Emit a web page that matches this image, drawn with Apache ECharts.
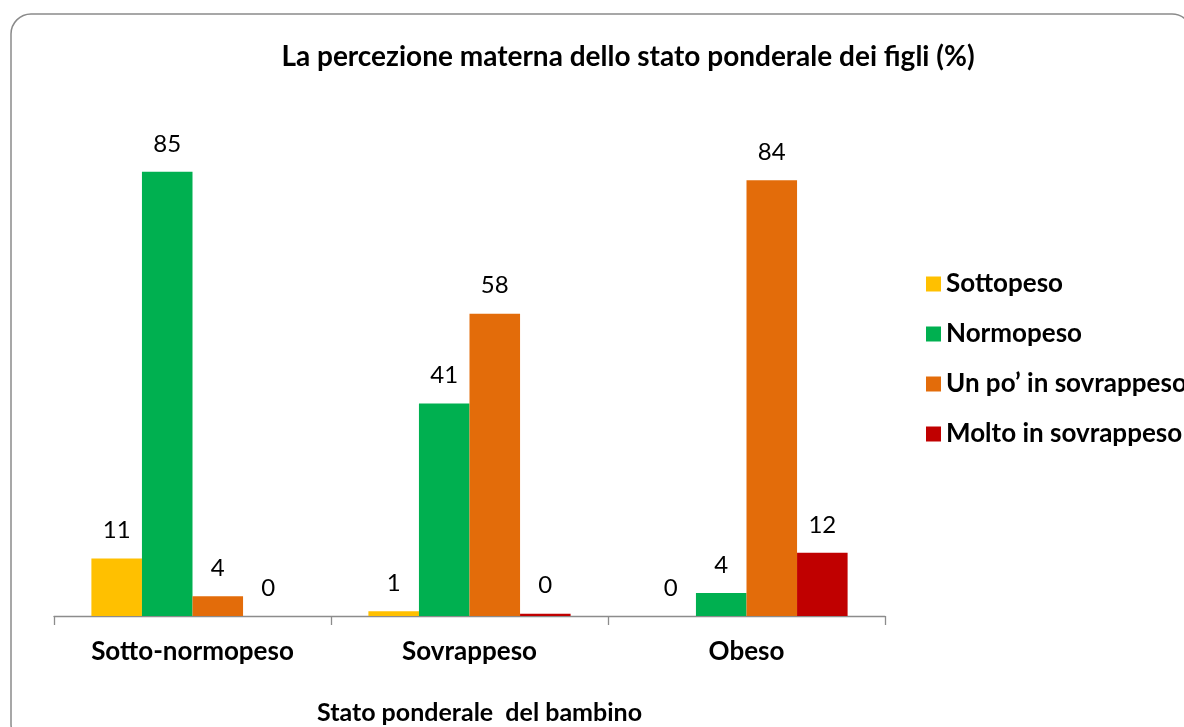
<!DOCTYPE html>
<html>
<head>
<meta charset="utf-8">
<script src="https://cdn.jsdelivr.net/npm/echarts@6/dist/echarts.min.js"></script>
<style>
html,body{margin:0;padding:0;background:#fff;}
#chart{width:1184px;height:727px;}
</style>
</head>
<body>
<div id="chart"></div>
<script>
var categories = ['Sotto-normopeso', 'Sovrappeso', 'Obeso'];
var seriesNames = ['Sottopeso', 'Normopeso', 'Un po\u2019 in sovrappeso', 'Molto in sovrappeso'];
var sottopeso = [11.0, 0.9, 0];
var normopeso = [85.1, 40.7, 4.4];
var unPoSovrappeso = [3.8, 57.9, 83.5];
var moltoSovrappeso = [0, 0.45, 12.1];
var colors = ['#FFC000', '#00B050', '#E36C0A', '#C00000'];
var titleText = 'La percezione materna dello stato ponderale dei figli (%)';
var xAxisName = 'Stato ponderale  del bambino';

var FONT = 'Lato';
var values = [sottopeso, normopeso, unPoSovrappeso, moltoSovrappeso];

var chart = echarts.init(document.getElementById('chart'), null, {renderer: 'canvas'});
var option = {
  backgroundColor: '#ffffff',
  animation: false,
  graphic: [{
    type: 'rect',
    shape: {x: 11, y: 14, width: 1181, height: 730, r: 20},
    style: {fill: 'none', stroke: '#8a8a8a', lineWidth: 1.5},
    z: -1
  }],
  title: {
    text: titleText,
    left: 623,
    top: 38,
    textAlign: 'center',
    textStyle: {fontFamily: FONT, fontWeight: 'bold', fontSize: 28, color: '#000'}
  },
  legend: {
    orient: 'vertical',
    left: 921,
    top: 266,
    itemWidth: 15,
    itemHeight: 15,
    itemGap: 24,
    icon: 'rect',
    data: seriesNames,
    textStyle: {fontFamily: FONT, fontWeight: 'bold', fontSize: 26, color: '#000'}
  },
  grid: {left: 54, right: 299, top: 94, bottom: 111, containLabel: false, outerBoundsMode: 'none'},
  xAxis: {
    type: 'category',
    data: categories,
    name: xAxisName,
    nameLocation: 'middle',
    nameGap: 84,
    nameTextStyle: {fontFamily: FONT, fontWeight: 'bold', fontSize: 25, color: '#000', padding: [0, 0, 0, 20]},
    axisLine: {lineStyle: {color: '#8c8c8c', width: 1.3}},
    axisTick: {show: true, length: 9, lineStyle: {color: '#8c8c8c', width: 1.3}},
    axisLabel: {margin: 23, fontFamily: FONT, fontWeight: 'bold', fontSize: 26, color: '#000'}
  },
  yAxis: {
    type: 'value',
    min: 0,
    max: 100,
    show: false,
    splitLine: {show: false}
  },
  series: seriesNames.map(function (name, i) {
    return {
      name: name,
      type: 'bar',
      data: values[i],
      barGap: '0%',
      barCategoryGap: '27%',
      itemStyle: {color: colors[i]},
      label: {
        show: true,
        position: 'top',
        distance: 16,
        fontFamily: FONT,
        fontSize: 24,
        color: '#000',
        formatter: function (p) { return Math.round(p.value); }
      }
    };
  })
};
chart.setOption(option);
</script>
</body>
</html>
